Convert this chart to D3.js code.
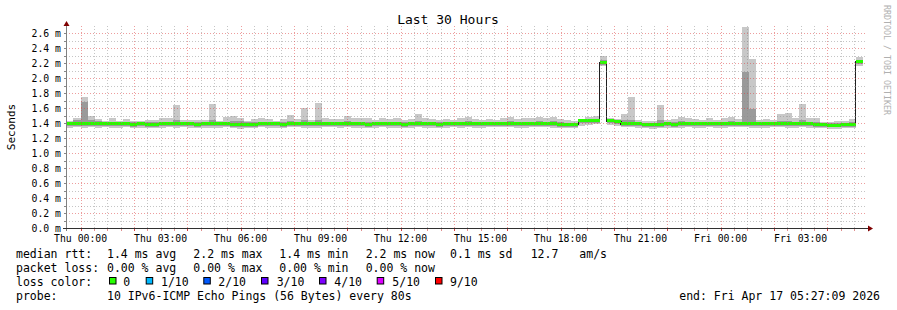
<!DOCTYPE html>
<html><head><meta charset="utf-8">
<script src="https://cdn.jsdelivr.net/npm/d3@7"></script>
<style>html,body{margin:0;padding:0;background:#fff;}svg{display:block;}</style>
</head><body>
<svg id="c" width="897" height="310"></svg>
<script>
// ---- data (bins of 16 minutes, first bin starts 32 min before Thu 00:00) ----
const stepMinutes = 16;
const firstBinMinutes = -32;
const maxRtt = [1.43,1.475,1.755,1.497,1.457,1.43,1.475,1.43,1.457,1.43,1.43,1.44,1.44,1.475,1.475,1.645,1.45,1.44,1.44,1.44,1.66,1.43,1.48,1.5,1.475,1.43,1.46,1.475,1.457,1.43,1.457,1.51,1.46,1.6,1.45,1.67,1.47,1.46,1.46,1.5,1.47,1.47,1.47,1.45,1.47,1.46,1.47,1.45,1.46,1.52,1.47,1.46,1.45,1.46,1.45,1.47,1.48,1.46,1.45,1.46,1.45,1.47,1.48,1.46,1.47,1.47,1.48,1.47,1.48,1.46,1.44,1.43,1.45,1.48,1.5,2.3,1.47,1.46,1.52,1.755,1.44,1.43,1.43,1.645,1.44,1.46,1.48,1.47,1.46,1.44,1.47,1.45,1.47,1.49,1.457,2.68,2.26,1.44,1.457,1.44,1.52,1.537,1.466,1.66,1.466,1.466,1.42,1.42,1.43,1.43,1.457,2.28];
const hiRtt = [1.415,1.45,1.69,1.45,1.425,1.415,1.42,1.415,1.42,1.415,1.41,1.42,1.415,1.42,1.42,1.45,1.42,1.415,1.415,1.42,1.45,1.415,1.42,1.43,1.425,1.415,1.42,1.42,1.42,1.415,1.42,1.43,1.42,1.45,1.42,1.45,1.42,1.42,1.42,1.43,1.42,1.42,1.42,1.415,1.42,1.42,1.42,1.415,1.42,1.43,1.42,1.42,1.415,1.42,1.415,1.42,1.43,1.42,1.415,1.42,1.415,1.42,1.43,1.42,1.42,1.42,1.43,1.42,1.43,1.42,1.41,1.41,1.42,1.43,1.46,2.25,1.45,1.43,1.44,1.45,1.42,1.41,1.41,1.44,1.415,1.42,1.43,1.42,1.42,1.415,1.42,1.415,1.42,1.43,1.42,2.09,1.59,1.415,1.42,1.415,1.43,1.43,1.42,1.44,1.42,1.42,1.4,1.4,1.405,1.405,1.42,2.25];
const medRtt = [1.385,1.39,1.39,1.39,1.39,1.39,1.385,1.385,1.39,1.38,1.385,1.38,1.38,1.385,1.39,1.39,1.39,1.385,1.38,1.385,1.385,1.385,1.39,1.38,1.375,1.38,1.38,1.39,1.385,1.385,1.38,1.39,1.39,1.385,1.385,1.385,1.39,1.39,1.385,1.39,1.385,1.385,1.38,1.385,1.39,1.385,1.385,1.38,1.385,1.39,1.385,1.385,1.38,1.385,1.39,1.385,1.39,1.385,1.385,1.39,1.39,1.39,1.39,1.385,1.385,1.39,1.39,1.39,1.385,1.38,1.375,1.38,1.43,1.43,1.435,2.21,1.43,1.42,1.39,1.39,1.385,1.38,1.375,1.38,1.385,1.38,1.385,1.39,1.385,1.385,1.39,1.385,1.385,1.39,1.39,1.39,1.385,1.385,1.385,1.39,1.39,1.385,1.385,1.39,1.385,1.38,1.375,1.37,1.37,1.375,1.38,2.22];
const loRtt = [1.36,1.365,1.36,1.365,1.36,1.365,1.36,1.36,1.365,1.355,1.36,1.355,1.355,1.36,1.365,1.36,1.365,1.36,1.355,1.36,1.36,1.36,1.365,1.355,1.35,1.355,1.355,1.365,1.36,1.36,1.355,1.365,1.365,1.36,1.36,1.36,1.365,1.365,1.36,1.365,1.36,1.36,1.355,1.36,1.365,1.36,1.36,1.355,1.36,1.365,1.36,1.36,1.355,1.36,1.365,1.36,1.365,1.36,1.36,1.365,1.365,1.365,1.365,1.36,1.36,1.365,1.365,1.365,1.36,1.355,1.35,1.355,1.4,1.405,1.41,2.18,1.405,1.395,1.365,1.365,1.36,1.355,1.35,1.355,1.36,1.355,1.36,1.365,1.36,1.36,1.365,1.36,1.36,1.365,1.365,1.365,1.36,1.36,1.36,1.365,1.365,1.36,1.36,1.365,1.36,1.355,1.35,1.345,1.345,1.35,1.355,2.19];
const minRtt = [1.34,1.345,1.34,1.345,1.34,1.345,1.335,1.34,1.345,1.33,1.34,1.335,1.335,1.34,1.345,1.34,1.345,1.34,1.335,1.335,1.34,1.34,1.345,1.335,1.325,1.33,1.335,1.345,1.34,1.34,1.335,1.345,1.345,1.34,1.34,1.34,1.345,1.345,1.34,1.345,1.34,1.34,1.335,1.34,1.345,1.34,1.34,1.335,1.34,1.345,1.34,1.34,1.335,1.34,1.345,1.34,1.345,1.34,1.34,1.345,1.345,1.345,1.345,1.34,1.34,1.345,1.345,1.345,1.34,1.335,1.33,1.335,1.37,1.38,1.385,2.16,1.38,1.37,1.345,1.345,1.34,1.335,1.325,1.33,1.34,1.335,1.34,1.345,1.34,1.34,1.345,1.34,1.34,1.345,1.345,1.345,1.34,1.34,1.34,1.345,1.345,1.34,1.34,1.345,1.34,1.335,1.33,1.325,1.325,1.33,1.335,2.16];
const yTicks = [0.0,0.2,0.4,0.6,0.8,1.0,1.2,1.4,1.6,1.8,2.0,2.2,2.4,2.6];
const xTickHours = [0,3,6,9,12,15,18,21,24,27];
const xTickLabels = ["Thu 00:00","Thu 03:00","Thu 06:00","Thu 09:00","Thu 12:00","Thu 15:00","Thu 18:00","Thu 21:00","Fri 00:00","Fri 03:00"];
const lossLabels = ["0","1/10","2/10","3/10","4/10","5/10","9/10"];
const lossColors = ["#26ff00","#00b8ff","#0059ff","#5e00ff","#7e00ff","#dd00ff","#ff0000"];
const statsRtt = ["1.4 ms avg","2.2 ms max","1.4 ms min","2.2 ms now","0.1 ms sd","12.7","am/s"];
const statsLoss = ["0.00 % avg","0.00 % max","0.00 % min","0.00 % now"];
const startMin = -32.85, endMin = 1767.15;

// ---- layout ----
const svg = d3.select("#c");
const L = 66, R = 866, B = 228, T = 26;
const x = d3.scaleLinear().domain([startMin, endMin]).range([L, R]);
const y = d3.scaleLinear().domain([0, 2.7]).range([B, T]);
const mono = "DejaVu Sans Mono, monospace";

svg.append("rect").attr("width",897).attr("height",310).attr("fill","#fff");
const bins = medRtt.map((m,i)=>({t:firstBinMinutes+i*stepMinutes,med:m,max:maxRtt[i],hi:hiRtt[i],lo:loRtt[i],min:minRtt[i]}));

svg.append("clipPath").attr("id","pc").append("rect").attr("x",L+1).attr("y",T).attr("width",R-L).attr("height",B-T);
const g = svg.append("g").attr("clip-path","url(#pc)").attr("shape-rendering","crispEdges");
const bx = d=>Math.round(x(d.t)), bw = d=>Math.round(x(d.t+stepMinutes))-Math.round(x(d.t));
g.selectAll(".o").data(bins).join("rect").attr("x",bx).attr("width",bw)
  .attr("y",d=>Math.round(y(d.max))).attr("height",d=>Math.round(y(d.min))-Math.round(y(d.max))).attr("fill","#c8c8c8");
g.selectAll(".m").data(bins).join("rect").attr("x",bx).attr("width",bw)
  .attr("y",d=>Math.round(y(d.hi))).attr("height",d=>Math.round(y(d.lo))-Math.round(y(d.hi))).attr("fill","#9a9a9a");
// median line
const pts = bins.map(d=>[x(d.t),y(d.med)]);
pts.push([x(bins[bins.length-1].t+stepMinutes), y(bins[bins.length-1].med)]);
g.append("path").attr("d",d3.line().curve(d3.curveStepAfter)(pts)).attr("fill","none").attr("stroke","#202020").attr("stroke-width",1.3);
g.selectAll(".g").data(bins).join("rect").attr("x",bx).attr("width",bw)
  .attr("y",d=>Math.round(y(d.med))-2).attr("height",3).attr("fill",lossColors[0]);

// ---- grid ----
const grid = svg.append("g").attr("shape-rendering","crispEdges");
for (let v=0.1; v<2.65; v+=0.1) {
  const major = Math.abs(v/0.2-Math.round(v/0.2))<1e-6;
  grid.append("line").attr("x1",L).attr("x2",R).attr("y1",Math.round(y(v))+0.5).attr("y2",Math.round(y(v))+0.5)
    .attr("stroke", major? "rgba(220,60,60,0.5)":"rgba(140,140,140,0.5)").attr("stroke-dasharray","1,2");
}
for (let m=0; m<=endMin; m+=30) {
  const major = m%120===0;
  grid.append("line").attr("y1",T).attr("y2",B).attr("x1",Math.round(x(m))+0.5).attr("x2",Math.round(x(m))+0.5)
    .attr("stroke", major? "rgba(220,60,60,0.5)":"rgba(140,140,140,0.5)").attr("stroke-dasharray","1,2");
  grid.append("line").attr("y1",B+1).attr("y2",B+3).attr("x1",Math.round(x(m))+0.5).attr("x2",Math.round(x(m))+0.5)
    .attr("stroke", major? "#d04040":"#e09090");
}
// y ticks
for (let v=0.1; v<2.65; v+=0.1) {
  grid.append("line").attr("x1",L-2).attr("x2",L).attr("y1",Math.round(y(v))+0.5).attr("y2",Math.round(y(v))+0.5).attr("stroke","#888");
}
// axes
grid.append("line").attr("x1",L+0.5).attr("x2",L+0.5).attr("y1",B+3).attr("y2",T-1).attr("stroke","#808080");
grid.append("line").attr("x1",L-3).attr("x2",R+4).attr("y1",B+0.5).attr("y2",B+0.5).attr("stroke","#303030");
svg.append("path").attr("d",`M${L-2.5},${T} L${L+0.5},${T-5} L${L+3.5},${T} Z`).attr("fill","#7f0000");
svg.append("path").attr("d",`M${R+2},${B-2.5} L${R+7},${B+0.5} L${R+2},${B+3.5} Z`).attr("fill","#7f0000");

// labels
svg.selectAll(".yl").data(yTicks).join("text").attr("x",61).attr("y",d=>y(d)+3.8).attr("text-anchor","end")
  .attr("font-family",mono).attr("font-size",9.8).text(d=>d.toFixed(1)+" m");
svg.selectAll(".xl").data(xTickHours).join("text").attr("x",d=>x(d*60)).attr("y",241.5).attr("text-anchor","middle")
  .attr("font-family",mono).attr("font-size",9.8).text((d,i)=>xTickLabels[i]);
svg.append("text").attr("x",448).attr("y",24).attr("text-anchor","middle").attr("font-family",mono).attr("font-size",13).text("Last 30 Hours");
svg.append("text").attr("transform","translate(15,127) rotate(-90)").attr("text-anchor","middle").attr("font-family",mono).attr("font-size",11).text("Seconds");
svg.append("text").attr("transform","translate(884,5) rotate(90)").attr("font-family",mono).attr("font-size",8.3).attr("fill","#b0b0b0").text("RRDTOOL / TOBI OETIKER");

// legend
const fs = 11.5;
const tx = (s,xx,yy,anchor)=>svg.append("text").attr("x",xx).attr("y",yy).attr("font-family",mono).attr("font-size",fs).attr("text-anchor",anchor||"start").attr("xml:space","preserve").text(s);
tx("median rtt:",16,258);
const rttX = [107,193.3,279.3,365.7,450,530.7,579.3];
statsRtt.forEach((s,i)=>tx(s,rttX[i],258));
tx("packet loss:",16,272);
statsLoss.forEach((s,i)=>tx(s,rttX[i],272));
tx("loss color:",16,286);
const boxX = [109,145.7,203.3,261,319,376.7,435];
const labX = [123.3,161,218.3,276.7,334.3,392.3,450];
lossLabels.forEach((s,i)=>{
  svg.append("rect").attr("x",boxX[i]+0.5).attr("y",277.5).attr("width",6.5).attr("height",6.5).attr("fill",lossColors[i]).attr("stroke","#000").attr("stroke-width",1);
  tx(s,labX[i],286);
});
tx("probe:",16,300);
tx("10 IPv6-ICMP Echo Pings (56 Bytes) every 80s",107,300);
tx("end: Fri Apr 17 05:27:09 2026",880,300,"end");
</script>
</body></html>
